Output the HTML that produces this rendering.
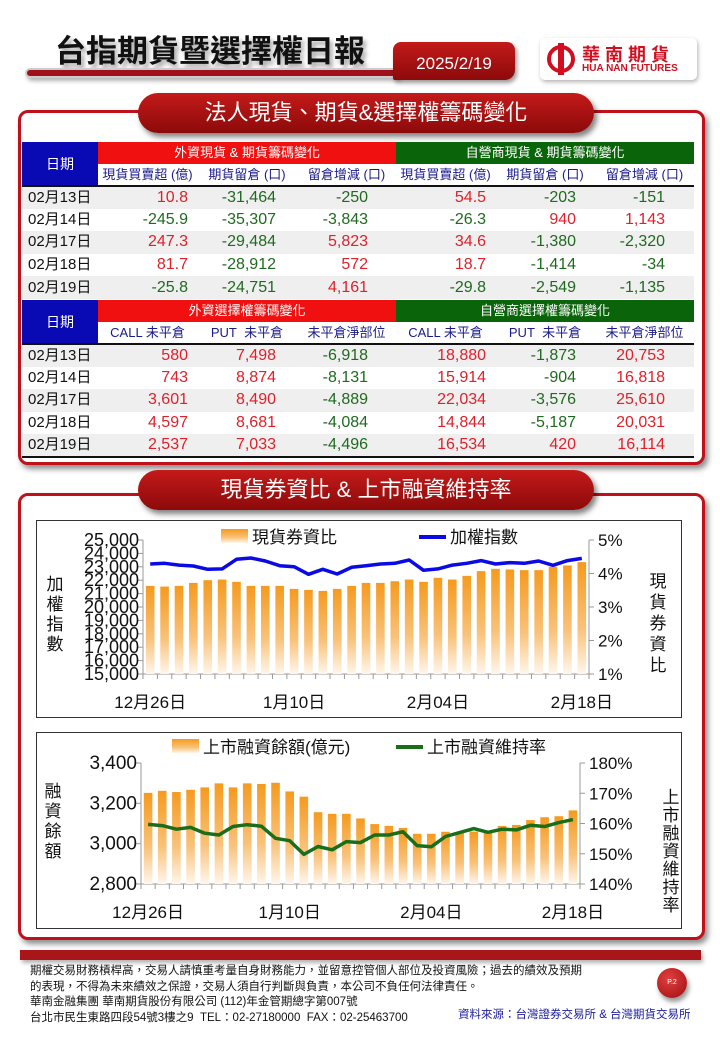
<!DOCTYPE html>
<html><head><meta charset="utf-8">
<style>
*{margin:0;padding:0;box-sizing:border-box}
body{width:720px;height:1040px;background:#fff;position:relative;overflow:hidden;font-family:"Liberation Sans Narrow","Liberation Sans","Noto Sans CJK TC",sans-serif}
.abs{position:absolute}
.frame{position:absolute;border:3px solid #c0101a;border-radius:10px;box-shadow:3px 4px 6px rgba(0,0,0,.45);background:#fff}
.pill{position:absolute;background:linear-gradient(#c41a1a,#8c0a0a);border-radius:20px;color:#fff;font-size:22px;text-align:center;box-shadow:3px 4px 6px rgba(0,0,0,.5);font-family:"Liberation Sans","Noto Sans CJK TC",sans-serif}
table{position:absolute;border-collapse:collapse;table-layout:fixed;font-family:"Liberation Sans Narrow","Liberation Sans","Noto Sans CJK TC",sans-serif}
td{padding:0;white-space:nowrap;overflow:hidden}
.h1 td{height:22px;line-height:20px;color:#fff;font-size:13px;text-align:center}
.h2 td{height:22px;line-height:20px;color:#1a1a8c;font-size:13px;text-align:center;background:#fff}
.dr td{height:22.6px;line-height:20px;font-size:16px;text-align:right}
.dr td:nth-child(2){padding-right:9px}
.dr td:nth-child(3){padding-right:21px}
.dr td:nth-child(4){padding-right:28px}
.dr td:nth-child(5){padding-right:9px}
.dr td:nth-child(6){padding-right:19px}
.dr td:nth-child(7){padding-right:29px}
.dr td:first-child{text-align:left;padding-left:6px;padding-right:0;color:#111;font-size:15px}
.dr:nth-child(odd) td{background:#efefef}
.p{color:#e0202a}.n{color:#1f6a1f}
.chartbox{position:absolute;border:1.5px solid #333;background:#fff}
</style></head><body>
<div class="abs" style="left:55px;top:26px;font-size:31px;font-weight:bold;color:#111;text-shadow:3px 4px 4px rgba(0,0,0,.35);font-family:'Liberation Sans','Noto Sans CJK TC',sans-serif">台指期貨暨選擇權日報</div>
<div class="abs" style="left:25px;top:68px;width:375px;height:10px;border-radius:5px;background:#a0101a;border:2px solid #ccc;box-shadow:2px 3px 4px rgba(0,0,0,.3)"></div>
<div class="abs" style="left:393px;top:42px;width:122px;height:38px;background:linear-gradient(#c41a1a,#8c0a0a);border-radius:8px 8px 10px 2px;color:#fff;font-size:17px;text-align:center;line-height:44px;box-shadow:2px 3px 4px rgba(0,0,0,.4)">2025/2/19</div>
<div class="abs" style="left:540px;top:38px;width:157px;height:42px;border-radius:5px;box-shadow:1px 2px 4px rgba(0,0,0,.3);background:#fff">
 <div class="abs" style="left:7px;top:7px;width:28px;height:28px;border-radius:50%;border:4px solid #d01020"></div>
 <div class="abs" style="left:18px;top:5px;width:6px;height:32px;background:#d01020"></div>
 <div class="abs" style="left:42px;top:3px;font-size:18px;font-weight:bold;color:#d01020;letter-spacing:5px;font-family:'Liberation Sans','Noto Sans CJK TC',sans-serif">華南期貨</div>
 <div class="abs" style="left:42px;top:25px;font-size:10px;font-weight:bold;color:#d01020;font-family:'Liberation Sans',sans-serif">HUA NAN FUTURES</div>
</div>

<div class="frame" style="left:18px;top:110px;width:687px;height:355px"></div>
<div class="pill" style="left:138px;top:93px;width:456px;height:40px;line-height:40px">法人現貨、期貨&amp;選擇權籌碼變化</div>

<table style="left:22px;top:142px;width:672px">
<colgroup><col style="width:76px"><col style="width:99px"><col style="width:100px"><col style="width:99px"><col style="width:99px"><col style="width:100px"><col style="width:99px"></colgroup>
<tr class="h1"><td rowspan="2" style="background:#0a0ab4;color:#fff;font-size:14px">日期</td><td colspan="3" style="background:#f01010">外資現貨 &amp; 期貨籌碼變化</td><td colspan="3" style="background:#0a640a">自營商現貨 &amp; 期貨籌碼變化</td></tr>
<tr class="h2" style="border-bottom:2px solid #111"><td>現貨買賣超 (億)</td><td>期貨留倉 (口)</td><td>留倉增減 (口)</td><td>現貨買賣超 (億)</td><td>期貨留倉 (口)</td><td>留倉增減 (口)</td></tr>
<tbody>
<tr class="dr"><td>02月13日</td><td class="p">10.8</td><td class="n">-31,464</td><td class="n">-250</td><td class="p">54.5</td><td class="n">-203</td><td class="n">-151</td></tr>
<tr class="dr"><td>02月14日</td><td class="n">-245.9</td><td class="n">-35,307</td><td class="n">-3,843</td><td class="n">-26.3</td><td class="p">940</td><td class="p">1,143</td></tr>
<tr class="dr"><td>02月17日</td><td class="p">247.3</td><td class="n">-29,484</td><td class="p">5,823</td><td class="p">34.6</td><td class="n">-1,380</td><td class="n">-2,320</td></tr>
<tr class="dr"><td>02月18日</td><td class="p">81.7</td><td class="n">-28,912</td><td class="p">572</td><td class="p">18.7</td><td class="n">-1,414</td><td class="n">-34</td></tr>
<tr class="dr"><td>02月19日</td><td class="n">-25.8</td><td class="n">-24,751</td><td class="p">4,161</td><td class="n">-29.8</td><td class="n">-2,549</td><td class="n">-1,135</td></tr>
</tbody></table>

<table style="left:22px;top:300px;width:672px;border-bottom:2px solid #111">
<colgroup><col style="width:76px"><col style="width:99px"><col style="width:100px"><col style="width:99px"><col style="width:99px"><col style="width:100px"><col style="width:99px"></colgroup>
<tr class="h1"><td rowspan="2" style="background:#0a0ab4;color:#fff;font-size:14px">日期</td><td colspan="3" style="background:#f01010">外資選擇權籌碼變化</td><td colspan="3" style="background:#0a640a">自營商選擇權籌碼變化</td></tr>
<tr class="h2" style="border-bottom:2px solid #111"><td>CALL 未平倉</td><td>PUT&nbsp; 未平倉</td><td>未平倉淨部位</td><td>CALL 未平倉</td><td>PUT&nbsp; 未平倉</td><td>未平倉淨部位</td></tr>
<tbody>
<tr class="dr"><td>02月13日</td><td class="p">580</td><td class="p">7,498</td><td class="n">-6,918</td><td class="p">18,880</td><td class="n">-1,873</td><td class="p">20,753</td></tr>
<tr class="dr"><td>02月14日</td><td class="p">743</td><td class="p">8,874</td><td class="n">-8,131</td><td class="p">15,914</td><td class="n">-904</td><td class="p">16,818</td></tr>
<tr class="dr"><td>02月17日</td><td class="p">3,601</td><td class="p">8,490</td><td class="n">-4,889</td><td class="p">22,034</td><td class="n">-3,576</td><td class="p">25,610</td></tr>
<tr class="dr"><td>02月18日</td><td class="p">4,597</td><td class="p">8,681</td><td class="n">-4,084</td><td class="p">14,844</td><td class="n">-5,187</td><td class="p">20,031</td></tr>
<tr class="dr"><td>02月19日</td><td class="p">2,537</td><td class="p">7,033</td><td class="n">-4,496</td><td class="p">16,534</td><td class="p">420</td><td class="p">16,114</td></tr>
</tbody></table>

<div class="frame" style="left:18px;top:493px;width:687px;height:447px"></div>
<div class="pill" style="left:138px;top:470px;width:456px;height:40px;line-height:40px">現貨券資比 &amp; 上市融資維持率</div>
<div class="chartbox" style="left:36px;top:520px;width:646px;height:198px"></div>
<div class="chartbox" style="left:36px;top:732px;width:646px;height:197px"></div>

<svg id="charts" class="abs" style="left:0;top:0" width="720" height="1040">
<defs>
<linearGradient id="og" x1="0" y1="0" x2="0" y2="1"><stop offset="0" stop-color="#f59a1e"/><stop offset="0.6" stop-color="#f9c27a"/><stop offset="1" stop-color="#fff6ec"/></linearGradient>
</defs>
</svg>

<div class="abs" style="left:20px;top:950px;width:681px;height:10px;background:#a8161a;box-shadow:2px 3px 4px rgba(0,0,0,.3)"></div>
<div class="abs" style="left:30px;top:964px;font-size:11.5px;line-height:15.5px;color:#111">期權交易財務槓桿高，交易人請慎重考量自身財務能力，並留意控管個人部位及投資風險；過去的績效及預期<br>的表現，不得為未來績效之保證，交易人須自行判斷與負責，本公司不負任何法律責任。<br>華南金融集團 華南期貨股份有限公司 (112)年金管期總字第007號<br>台北市民生東路四段54號3樓之9&nbsp; TEL：02-27180000&nbsp; FAX：02-25463700</div>
<div class="abs" style="left:458px;top:1006px;font-size:11.5px;color:#1a1a9c">資料來源：台灣證券交易所 &amp; 台灣期貨交易所</div>
<div class="abs" style="left:657px;top:968px;width:30px;height:30px;border-radius:50%;background:radial-gradient(circle at 40% 35%,#e04040,#a00c10);color:#fff;font-size:7px;text-align:center;line-height:30px;box-shadow:2px 4px 5px rgba(0,0,0,.4)">P.2</div>

<script>
const dates = ["12月26日","12月27日","12月30日","12月31日","1月02日","1月03日","1月06日","1月07日","1月08日","1月09日","1月10日","1月13日","1月14日","1月15日","1月16日","1月17日","1月20日","1月21日","1月22日","2月03日","2月04日","2月05日","2月06日","2月07日","2月10日","2月11日","2月12日","2月13日","2月14日","2月17日","2月18日"];
const ratioPct = [3.63,3.61,3.63,3.72,3.80,3.82,3.75,3.63,3.63,3.63,3.54,3.51,3.48,3.54,3.63,3.72,3.72,3.77,3.82,3.75,3.87,3.82,3.93,4.07,4.14,4.12,4.10,4.10,4.20,4.24,4.34];
const taiex = [23209,23260,23130,23060,22810,22840,23560,23660,23430,23080,23010,22440,22810,22460,22960,23080,23210,23260,23510,22740,22840,23130,23260,23460,23210,23310,23260,23430,23110,23460,23630];
const leftTicks1 = [15000,16000,17000,18000,19000,20000,21000,22000,23000,24000,25000];
const rightTicks1 = [1,2,3,4,5];
const marginBal = [3252,3262,3256,3267,3279,3299,3279,3299,3296,3302,3259,3233,3156,3148,3148,3125,3097,3088,3078,3049,3049,3059,3055,3060,3062,3088,3093,3117,3131,3136,3165];
const maintRate = [159.7,159.3,158.1,158.7,156.8,156.2,159.0,159.6,159.1,155.1,154.3,149.8,152.4,151.3,154.0,153.7,156.2,156.2,157.3,152.7,152.3,155.7,157.0,158.3,157.1,158.1,157.9,159.4,159.0,160.3,161.3];
const leftTicks2 = [2800,3000,3200,3400];
const rightTicks2 = [140,150,160,170,180];
const labelIdx = [0,10,20,30];

const svg=document.getElementById('charts');
const NS='http://www.w3.org/2000/svg';
function mk(tag,attrs,parent){const e=document.createElementNS(NS,tag);for(const k in attrs)e.setAttribute(k,attrs[k]);(parent||svg).appendChild(e);return e;}
function fmt(v){return v.toLocaleString('en-US');}
const FONT="'Liberation Sans Narrow','Liberation Sans','Noto Sans CJK TC',sans-serif";

function drawChart(o){
  const g=mk('g',{});
  
  
  const n=o.cats.length, bw=(o.x1-o.x0)/n;
  const X=i=>o.x0+(i+0.5)*bw;
  const YL=v=>o.yb-(v-o.lmin)/(o.lmax-o.lmin)*(o.yb-o.yt);
  const YR=v=>o.yb-(v-o.rmin)/(o.rmax-o.rmin)*(o.yb-o.yt);
  mk('line',{x1:o.x0,y1:o.yt,x2:o.x0,y2:o.yb,stroke:'#999'},g);
  mk('line',{x1:o.x1,y1:o.yt,x2:o.x1,y2:o.yb,stroke:'#999'},g);
  mk('line',{x1:o.x0,y1:o.yb,x2:o.x1,y2:o.yb,stroke:'#999'},g);
  for(let i=0;i<=n;i++){mk('line',{x1:o.x0+i*bw,y1:o.yb,x2:o.x0+i*bw,y2:o.yb+5,stroke:'#999'},g);}
  o.lt.forEach(v=>{const y=YL(v);mk('line',{x1:o.x0-5,y1:y,x2:o.x0,y2:y,stroke:'#999'},g);
    const t=mk('text',{x:o.x0-4,y:y+6,'text-anchor':'end','font-size':o.lfs,'font-family':FONT,fill:'#111'},g);t.textContent=fmt(v);
    });
  o.rt.forEach(v=>{const y=YR(v);mk('line',{x1:o.x1,y1:y,x2:o.x1+5,y2:y,stroke:'#999'},g);
    const t=mk('text',{x:o.x1+9,y:y+6,'font-size':17,'font-family':FONT,fill:'#111'},g);t.textContent=v+'%';
    });
  function YR2(v){return o.barOnRight?YR(v):YL(v);}
  o.bars.forEach((v,i)=>{const y=YR2(v);const r=mk('rect',{x:X(i)-4.3,y:y,width:8.6,height:o.yb-y,fill:'url(#og)'},g);
    });
  const pts=o.line.map((v,i)=>X(i).toFixed(1)+','+(o.barOnRight?YL(v):YR(v)).toFixed(1)).join(' ');
  const pl=mk('polyline',{points:pts,fill:'none',stroke:o.lc,'stroke-width':3.5,'stroke-linejoin':'round'},g);
  
  labelIdx.forEach(i=>{const t=mk('text',{x:X(i),y:o.yb+34,'text-anchor':'middle','font-size':17,'font-family':FONT,fill:'#111'},g);t.textContent=o.cats[i].replace(/月0?/,'月').replace('月4','月04');
    });
}

drawChart({name:'ratio-chart',cats:dates,x0:143,x1:589,yt:540,yb:674,lmin:15000,lmax:25000,rmin:1,rmax:5,lt:leftTicks1,rt:rightTicks1,lfs:18,bars:ratioPct,barOnRight:true,line:taiex,lc:'#0a0ae6',lineName:'taiex-line'});
drawChart({name:'margin-chart',cats:dates,x0:141,x1:580,yt:763,yb:884,lmin:2800,lmax:3400,rmin:140,rmax:180,lt:leftTicks2,rt:rightTicks2,lfs:19,bars:marginBal,barOnRight:false,line:maintRate,lc:'#1a6e1a',lineName:'maintenance-rate-line'});

function vtext(str,x,y,lh,name){const t=mk('text',{x:x,y:y,'font-size':17,'font-family':FONT,fill:'#111','text-anchor':'middle'});
  
  [...str].forEach((c,i)=>{const s=mk('tspan',{x:x,dy:i?lh:0},t);s.textContent=c;});}
vtext('加權指數',55,590,20,'left-axis-title');
vtext('現貨券資比',658,587,21,'right-axis-title');
vtext('融資餘額',53,797,20,'left-axis-title-2');
vtext('上市融資維持率',671,803,18,'right-axis-title-2');

function legend(x,y,isBar,color,label,name){const g=mk('g',{});
  if(isBar)mk('rect',{x:x,y:y-8,width:27,height:14,fill:'url(#og)'},g);else mk('line',{x1:x,y1:y,x2:x+27,y2:y,stroke:color,'stroke-width':4},g);
  const t=mk('text',{x:x+31,y:y+6,'font-size':17,'font-family':FONT,fill:'#111'},g);t.textContent=label;}
legend(221,537,true,'','現貨券資比','legend-ratio');
legend(419,537,false,'#0a0ae6','加權指數','legend-taiex');
legend(172,747,true,'','上市融資餘額(億元)','legend-margin-balance');
legend(396,747,false,'#1a6e1a','上市融資維持率','legend-maintenance-rate');
</script>
</body></html>
